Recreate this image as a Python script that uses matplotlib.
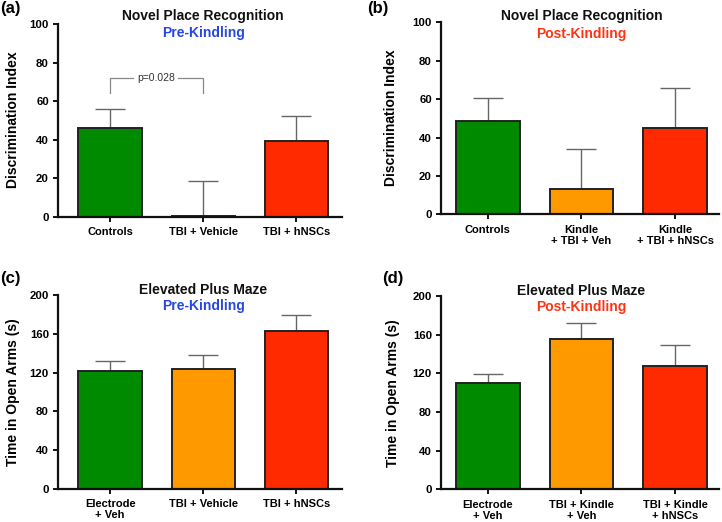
import matplotlib
matplotlib.use("Agg")
import matplotlib.pyplot as plt

plt.rcParams['font.family'] = ['Liberation Sans', 'DejaVu Sans']

# ---- data ----
labels_a = ["Controls", "TBI + Vehicle", "TBI + hNSCs"]
means_a = [46.2, 0.6, 39.5]
errs_a = [9.5, 17.9, 12.8]

labels_b = ["Controls", "Kindle\n+ TBI + Veh", "Kindle\n+ TBI + hNSCs"]
means_b = [48.7, 13.2, 45.0]
errs_b = [12.0, 21.0, 20.6]

labels_c = ["Electrode\n+ Veh", "TBI + Vehicle", "TBI + hNSCs"]
means_c = [122.0, 123.5, 163.5]
errs_c = [10.0, 14.5, 16.0]

labels_d = ["Electrode\n+ Veh", "TBI + Kindle\n+ Veh", "TBI + Kindle\n+ hNSCs"]
means_d = [110.0, 155.5, 127.6]
errs_d = [9.6, 16.2, 22.0]

p_text = "p=0.028"

colors = ["#008A00", "#FF9900", "#FF2A00"]
BLUE = "#2648E0"
RED = "#FF3311"

fig = plt.figure(figsize=(7.22, 5.22), dpi=100)
W, H = 722.0, 522.0

def mk_axes(left, right, top, bottom):
    return fig.add_axes([left / W, 1 - bottom / H, (right - left) / W, (bottom - top) / H])

def style(ax, labels, means, errs, ymax, step, xlim):
    x = list(range(len(labels)))
    ax.errorbar(x, means, yerr=[[0] * len(errs), errs], fmt='none', ecolor='#666666',
                elinewidth=1.0, capsize=11, capthick=1.0, zorder=1)
    ax.bar(x, means, width=0.68, color=colors, edgecolor='#222222', linewidth=1.4, zorder=2)
    ax.set_ylim(0, ymax)
    ax.set_xlim(*xlim)
    ax.set_yticks(range(0, ymax + 1, step))
    ax.set_xticks(x)
    ax.set_xticklabels(labels, fontsize=8, fontweight='bold', linespacing=1.1)
    for lab in ax.get_yticklabels():
        lab.set_fontweight('bold')
        lab.set_fontsize(8.2)
    for s in ['top', 'right']:
        ax.spines[s].set_visible(False)
    for s in ['left', 'bottom']:
        ax.spines[s].set_linewidth(1.6)
        ax.spines[s].set_color('#111111')
    ax.tick_params(axis='both', direction='out', length=3.5, width=1.4, color='#111111', pad=3)
    ax.tick_params(axis='x', length=3.5, pad=4)

def titles(ax, t1, t2, c2, y1, y2):
    ax.text(1, y1, t1, ha='center', va='center', fontsize=10, fontweight='bold',
            color='#111111', clip_on=False)
    ax.text(1, y2, t2, ha='center', va='center', fontsize=10, fontweight='bold',
            color=c2, clip_on=False)

# (a)
ax_a = mk_axes(58, 342, 24, 217)
style(ax_a, labels_a, means_a, errs_a, 100, 20, (-0.56, 2.49))
titles(ax_a, "Novel Place Recognition", "Pre-Kindling", BLUE, 104.2, 95.3)
# p-value bracket
bk = '#888888'
ax_a.plot([0, 0, 0.25], [64, 71.8, 71.8], color=bk, lw=0.9, zorder=3)
ax_a.plot([0.73, 1, 1], [71.8, 71.8, 64], color=bk, lw=0.9, zorder=3)
ax_a.text(0.5, 71.8, p_text, ha='center', va='center', fontsize=7.5, color='#333333')

# (b)
ax_b = mk_axes(441, 719, 22.3, 214.3)
style(ax_b, labels_b, means_b, errs_b, 100, 20, (-0.5, 2.47))
titles(ax_b, "Novel Place Recognition", "Post-Kindling", RED, 103.3, 93.8)

# (c)
ax_c = mk_axes(58, 342, 295.3, 488.7)
style(ax_c, labels_c, means_c, errs_c, 200, 40, (-0.56, 2.49))
titles(ax_c, "Elevated Plus Maze", "Pre-Kindling", BLUE, 205.5, 188.5)

# (d)
ax_d = mk_axes(441, 719, 296, 489.3)
style(ax_d, labels_d, means_d, errs_d, 200, 40, (-0.5, 2.47))
titles(ax_d, "Elevated Plus Maze", "Post-Kindling", RED, 205.5, 189.0)

# y labels
fig.text(13 / W, 1 - 120 / H, "Discrimination Index", rotation=90, ha='center', va='center',
         fontsize=10, fontweight='bold')
fig.text(391 / W, 1 - 118 / H, "Discrimination Index", rotation=90, ha='center', va='center',
         fontsize=10, fontweight='bold')
fig.text(13 / W, 1 - 392 / H, "Time in Open Arms (s)", rotation=90, ha='center', va='center',
         fontsize=10, fontweight='bold')
fig.text(393 / W, 1 - 393 / H, "Time in Open Arms (s)", rotation=90, ha='center', va='center',
         fontsize=10, fontweight='bold')

# panel labels
for txt, x, y in [("(a)", 0, 8), ("(b)", 367, 8), ("(c)", 0, 278), ("(d)", 382, 278)]:
    fig.text(x / W, 1 - y / H, txt, ha='left', va='center', fontsize=12, fontweight='bold')

fig.savefig("out.png", dpi=100)
